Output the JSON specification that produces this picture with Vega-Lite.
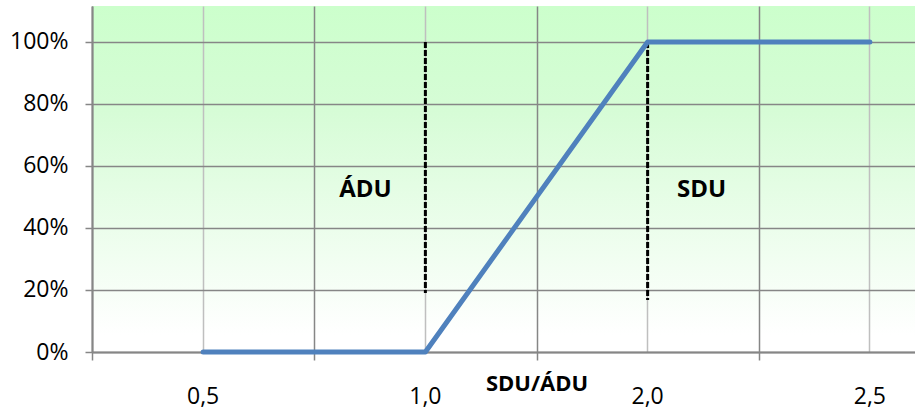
{
  "$schema": "https://vega.github.io/schema/vega-lite/v6.json",
  "width": 823,
  "height": 346,
  "autosize": "none",
  "padding": {"left": 92, "top": 6, "right": 0, "bottom": 58},
  "background": "white",
  "config": {
    "font": "Open Sans",
    "view": {
      "stroke": null,
      "fill": {
        "gradient": "linear",
        "x1": 0, "y1": 0, "x2": 0, "y2": 1,
        "stops": [
          {"offset": 0, "color": "#ccffcc"},
          {"offset": 0.3, "color": "#d6fcd6"},
          {"offset": 0.95, "color": "#ffffff"},
          {"offset": 1, "color": "#ffffff"}
        ]
      }
    }
  },
  "datasets": {
    "curve": [
      {"ratio": "0,5", "share": 0},
      {"ratio": "1,0", "share": 0},
      {"ratio": "2,0", "share": 1},
      {"ratio": "2,5", "share": 1}
    ],
    "markers": [
      {"ratio": "1,0", "top": 1, "bottom": 0.19},
      {"ratio": "2,0", "top": 1, "bottom": 0.168}
    ]
  },
  "resolve": {"axis": {"x": "independent"}},
  "layer": [
    {
      "data": {"name": "markers"},
      "mark": {"type": "rule", "color": "black", "strokeWidth": 3, "strokeDash": [6, 2]},
      "encoding": {
        "x": {
          "field": "ratio", "type": "nominal",
          "scale": {"type": "band", "domain": ["0,5", "1,0", "2,0", "2,5"], "range": [0, 889], "paddingInner": 0, "paddingOuter": 0},
          "axis": {
            "orient": "bottom", "tickBand": "extent", "grid": true, "gridColor": "#868686", "gridWidth": 1.5,
            "ticks": true, "tickSize": 8, "tickColor": "#868686", "tickWidth": 1.5,
            "domain": true, "domainColor": "#868686", "domainWidth": 2,
            "labels": false, "title": null
          }
        },
        "y": {
          "field": "top", "type": "quantitative",
          "scale": {"domain": [0, 1.116], "nice": false, "zero": true},
          "axis": {
            "values": [0, 0.2, 0.4, 0.6, 0.8, 1.0], "format": ".0%", "title": null,
            "grid": true, "gridColor": "#868686", "gridWidth": 1.5,
            "domain": true, "domainColor": "#868686", "domainWidth": 2,
            "ticks": true, "tickSize": 7, "tickColor": "#868686", "tickWidth": 1.5,
            "labelFontSize": 23, "labelColor": "black", "labelPadding": 17
          }
        },
        "y2": {"field": "bottom"}
      }
    },
    {
      "data": {"values": [{"ratio": "1,0", "share": 0.523, "label": "ÁDU"}]},
      "mark": {"type": "text", "fontSize": 24, "fontWeight": "bold", "color": "black", "dx": -60, "baseline": "middle"},
      "encoding": {
        "x": {"field": "ratio", "type": "nominal", "axis": null},
        "y": {"field": "share", "type": "quantitative"},
        "text": {"field": "label"}
      }
    },
    {
      "data": {"values": [{"ratio": "2,0", "share": 0.523, "label": "SDU"}]},
      "mark": {"type": "text", "fontSize": 24, "fontWeight": "bold", "color": "black", "dx": 54, "baseline": "middle"},
      "encoding": {
        "x": {"field": "ratio", "type": "nominal", "axis": null},
        "y": {"field": "share", "type": "quantitative"},
        "text": {"field": "label"}
      }
    },
    {
      "data": {"name": "curve"},
      "mark": {"type": "line", "color": "#4f81bd", "strokeWidth": 5, "strokeCap": "round", "strokeJoin": "round"},
      "encoding": {
        "x": {
          "field": "ratio", "type": "nominal", "sort": null,
          "axis": {
            "orient": "bottom", "grid": true, "gridColor": "#bfbfbf", "gridWidth": 1.5,
            "ticks": false, "domain": false, "labelAngle": 0,
            "labelFontSize": 23, "labelColor": "black", "labelBaseline": "alphabetic", "labelPadding": 51,
            "title": "SDU/ÁDU", "titleFontSize": 22, "titleFontWeight": "bold", "titleColor": "black",
            "titleBaseline": "alphabetic", "titleY": 38
          }
        },
        "y": {"field": "share", "type": "quantitative"}
      }
    }
  ]
}
